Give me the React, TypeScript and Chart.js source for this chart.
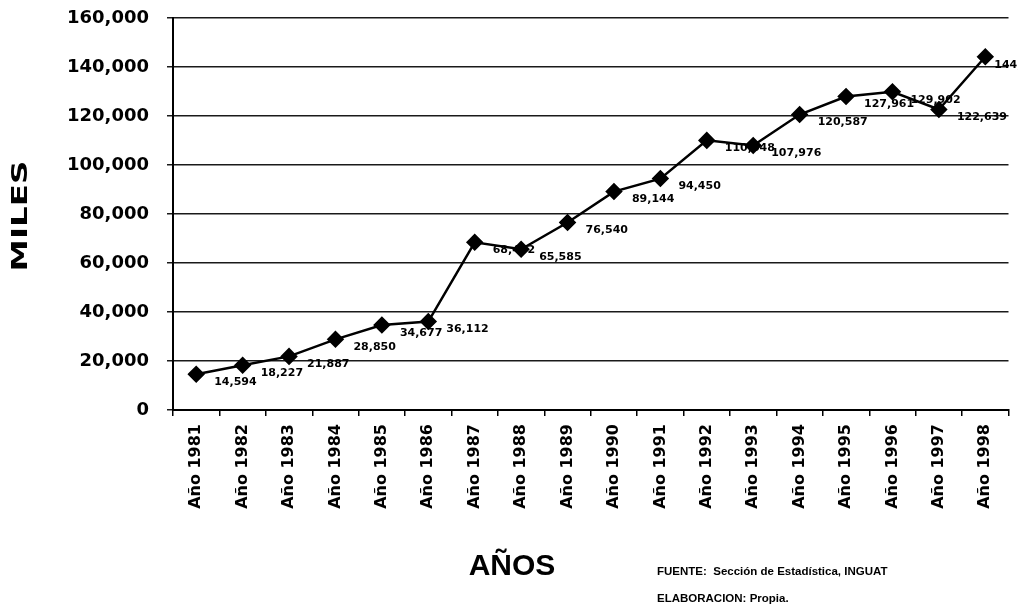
import React, { useEffect, useRef } from "react";
import { Chart, registerables } from "chart.js";

Chart.register(...registerables);

const years: string[] = [
  "Año 1981", "Año 1982", "Año 1983", "Año 1984", "Año 1985", "Año 1986",
  "Año 1987", "Año 1988", "Año 1989", "Año 1990", "Año 1991", "Año 1992",
  "Año 1993", "Año 1994", "Año 1995", "Año 1996", "Año 1997", "Año 1998",
];

const visitantes: number[] = [
  14594, 18227, 21887, 28850, 34677, 36112, 68452, 65585, 76540, 89144,
  94450, 110048, 107976, 120587, 127961, 129902, 122639, 144180,
];

const yTicks: number[] = [0, 20000, 40000, 60000, 80000, 100000, 120000, 140000, 160000];

const yTitle = "MILES";
const xTitle = "AÑOS";
const sourceLine = "FUENTE:  Sección de Estadística, INGUAT";
const authorLine = "ELABORACION: Propia.";

const fmt = (v: number) => v.toLocaleString("en-US");

export default function App() {
  const ref = useRef<HTMLCanvasElement | null>(null);

  useEffect(() => {
    document.body.style.margin = "0";
    const canvas = ref.current;
    if (!canvas) return;

    const labelsPlugin = {
      id: "pointLabels",
      afterDatasetsDraw(chart: any) {
        const ctx = chart.ctx;
        const meta = chart.getDatasetMeta(0);
        ctx.save();
        ctx.fillStyle = "#000";
        ctx.font = "bold 11px 'DejaVu Sans'";
        ctx.textAlign = "left";
        ctx.textBaseline = "middle";
        meta.data.forEach((pt: any, i: number) => {
          const dx = i === visitantes.length - 1 ? 9 : 18;
          ctx.fillText(fmt(visitantes[i]), pt.x + dx, pt.y + 8);
        });
        ctx.restore();
      },
    };

    const titlesPlugin = {
      id: "titles",
      afterDraw(chart: any) {
        const ctx = chart.ctx;
        ctx.save();
        ctx.fillStyle = "#000";
        ctx.save();
        ctx.translate(22, 216);
        ctx.rotate(-Math.PI / 2);
        ctx.scale(1.55, 1);
        ctx.font = "bold 21px 'DejaVu Sans'";
        ctx.textAlign = "center";
        ctx.textBaseline = "middle";
        ctx.fillText(yTitle, 0, 0);
        ctx.restore();
        ctx.font = "bold 30px 'Liberation Sans Narrow', 'Liberation Sans'";
        ctx.textAlign = "center";
        ctx.textBaseline = "alphabetic";
        ctx.fillText(xTitle, 512, 575);
        ctx.font = "bold 11.5px 'Liberation Sans'";
        ctx.textAlign = "left";
        ctx.textBaseline = "middle";
        ctx.fillText(sourceLine, 657, 572);
        ctx.fillText(authorLine, 657, 599);
        ctx.restore();
      },
    };

    const bgPlugin = {
      id: "bg",
      beforeDraw(chart: any) {
        const ctx = chart.ctx;
        ctx.save();
        ctx.fillStyle = "#fff";
        ctx.fillRect(0, 0, chart.width, chart.height);
        ctx.restore();
      },
    };

    const chart = new Chart(canvas, {
      type: "line",
      data: {
        labels: years,
        datasets: [
          {
            data: visitantes,
            borderColor: "#000",
            backgroundColor: "#000",
            borderWidth: 2.5,
            pointStyle: "rectRot",
            pointRadius: 7,
            pointBackgroundColor: "#000",
            pointBorderColor: "#000",
            tension: 0,
          },
        ],
      },
      options: {
        responsive: false,
        animation: false,
        devicePixelRatio: 1,
        layout: { padding: { left: 0, right: 8, top: 18, bottom: 0 } },
        plugins: {
          legend: { display: false },
          tooltip: { enabled: false },
          title: { display: false },
        },
        scales: {
          x: {
            type: "category",
            offset: true,
            grid: {
              display: true,
              drawOnChartArea: false,
              drawTicks: true,
              tickLength: 6,
              color: "#000",
              offset: true,
              lineWidth: 1.5,
            },
            border: { display: true, color: "#000", width: 2 },
            ticks: {
              autoSkip: false,
              maxRotation: 90,
              minRotation: 90,
              padding: 8,
              color: "#000",
              font: { family: "'DejaVu Sans'", size: 16, weight: "bold" },
            },
            afterFit(scale: any) {
              scale.height = 198;
              scale.paddingLeft = 0;
              scale.paddingRight = 0;
            },
          },
          y: {
            min: 0,
            max: 160000,
            afterBuildTicks(scale: any) {
              scale.ticks = yTicks.map((v) => ({ value: v }));
            },
            grid: {
              color: "#1a1a1a",
              lineWidth: 1.5,
              tickLength: 6,
            },
            border: { display: true, color: "#000", width: 2 },
            ticks: {
              padding: 18,
              color: "#000",
              font: { family: "'DejaVu Sans'", size: 18, weight: "bold" },
              callback: (v: any) => fmt(Number(v)),
            },
            afterFit(scale: any) {
              scale.width = 173;
              scale.paddingTop = 0;
              scale.paddingBottom = 0;
            },
          },
        },
      },
      plugins: [bgPlugin, labelsPlugin, titlesPlugin],
    } as any);

    return () => chart.destroy();
  }, []);

  return (
    <div style={{ position: "absolute", left: 0, top: 0, width: 1018, height: 608, background: "#fff" }}>
      <canvas ref={ref} width={1018} height={608} style={{ display: "block" }} />
    </div>
  );
}
